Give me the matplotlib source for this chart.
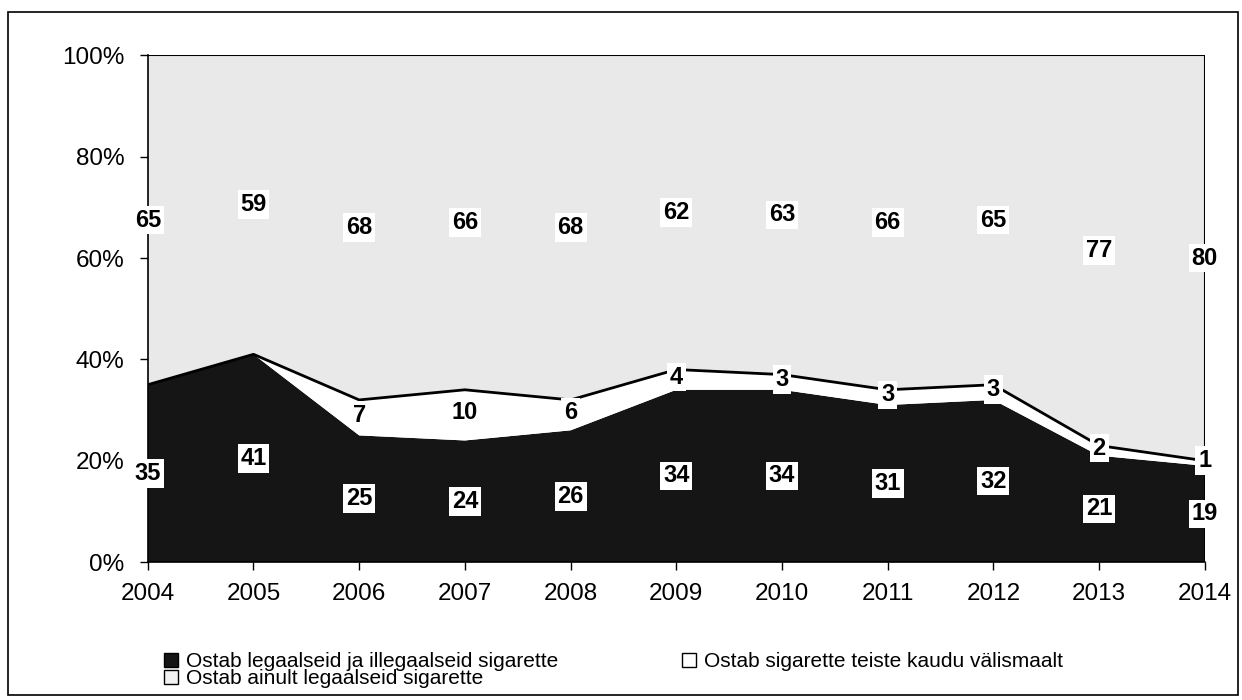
import matplotlib
matplotlib.use("Agg")
import matplotlib.pyplot as plt
from matplotlib.patches import Rectangle
from matplotlib.lines import Line2D

plt.rcParams['font.family'] = ['Liberation Sans', 'DejaVu Sans']

years = [2004, 2005, 2006, 2007, 2008, 2009, 2010, 2011, 2012, 2013, 2014]
legal_illegal = [35, 41, 25, 24, 26, 34, 34, 31, 32, 21, 19]
via_others = [0, 0, 7, 10, 6, 4, 3, 3, 3, 2, 1]
legal_only = [65, 59, 68, 66, 68, 62, 63, 66, 65, 77, 80]

names = ['Ostab legaalseid ja illegaalseid sigarette',
         'Ostab sigarette teiste kaudu välismaalt',
         'Ostab ainult legaalseid sigarette']

fig = plt.figure(figsize=(12.42, 7), dpi=100)
fig.patches.append(Rectangle((8 / 1242, 5 / 700), 1230 / 1242, 683 / 700,
                             transform=fig.transFigure, fill=False,
                             edgecolor='black', linewidth=1.2))
ax = fig.add_axes([0.119, 0.197, 0.851, 0.724])

b1 = legal_illegal
b2 = [a + b for a, b in zip(legal_illegal, via_others)]
b3 = [a + b for a, b in zip(b2, legal_only)]

ax.fill_between(years, 0, b1, facecolor='#151515', edgecolor='none', zorder=1)
ax.fill_between(years, b1, b2, facecolor='white', edgecolor='none', zorder=1)
ax.fill_between(years, b2, b3, facecolor='#e9e9e9', edgecolor='none', zorder=1)
ax.plot(years, b2, color='black', linewidth=2, zorder=2)
ax.plot(years, b3, color='black', linewidth=1.5, zorder=2)
ax.plot([years[-1], years[-1]], [0, 100], color='black', linewidth=1.5, zorder=2)

box = dict(facecolor='white', edgecolor='none', pad=2)
for i, x in enumerate(years):
    ax.text(x, b1[i] / 2, str(legal_illegal[i]), ha='center', va='center',
            fontsize=17, fontweight='bold', bbox=box, zorder=5)
    if via_others[i] > 0:
        ax.text(x, (b1[i] + b2[i]) / 2 + 0.5, str(via_others[i]), ha='center', va='center',
                fontsize=17, fontweight='bold', bbox=box, zorder=5)
    ax.text(x, (b2[i] + b3[i]) / 2, str(legal_only[i]), ha='center', va='center',
            fontsize=17, fontweight='bold', bbox=box, zorder=5)

ax.set_xlim(years[0], years[-1])
ax.set_ylim(0, 100)
ax.set_xticks(years)
ax.set_yticks([0, 20, 40, 60, 80, 100])
ax.set_yticklabels([f'{v}%' for v in [0, 20, 40, 60, 80, 100]])
ax.tick_params(labelsize=17.5, length=6, width=1, direction='out')
ax.tick_params(axis='y', pad=11)
ax.tick_params(axis='x', pad=9)
for s in ['top', 'right']:
    ax.spines[s].set_visible(False)
ax.spines['left'].set_linewidth(1.2)
ax.spines['bottom'].set_linewidth(1.2)
ax.spines['left'].set_zorder(3)

handles = [
    Line2D([], [], marker='s', linestyle='none', markersize=10,
           markerfacecolor='#151515', markeredgecolor='black'),
    Line2D([], [], marker='s', linestyle='none', markersize=10,
           markerfacecolor='#f2f2f2', markeredgecolor='black'),
    Line2D([], [], marker='s', linestyle='none', markersize=10,
           markerfacecolor='white', markeredgecolor='black'),
]
labels = [names[0], names[2], names[1]]
fig.legend(handles, labels, ncol=2, loc='upper left',
           bbox_to_anchor=(153 / 1242, 1 - 642 / 700), frameon=False,
           fontsize=15, handlelength=0.75, handletextpad=0.35,
           columnspacing=5.9, labelspacing=-0.1, borderpad=0)

fig.savefig('out.png', dpi=100)
